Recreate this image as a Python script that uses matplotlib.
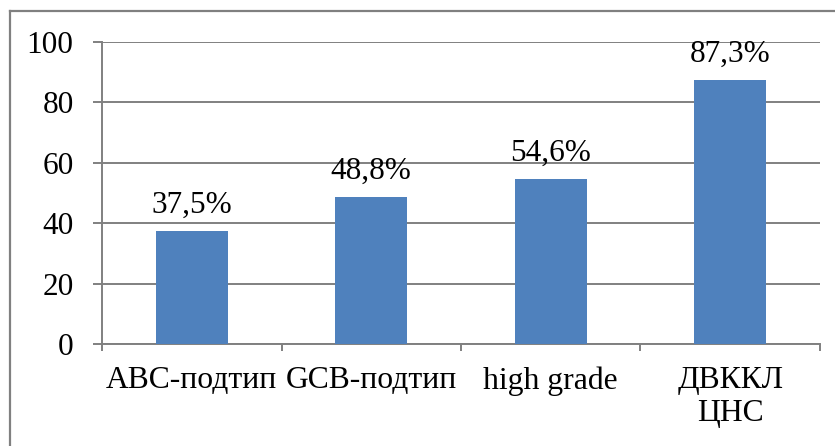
import numpy as np
import matplotlib.pyplot as plt
from matplotlib.lines import Line2D

plt.rcParams['font.family'] = ['Liberation Serif', 'DejaVu Serif']

# share of cases per lymphoma subgroup, %
groups = ["ABC-подтип", "GCB-подтип", "high grade", "ДВККЛ\nЦНС"]
share = [37.5, 48.8, 54.6, 87.3]
yticks = [0, 20, 40, 60, 80, 100]

grey = "#808080"
blue = "#4F81BD"

fig = plt.figure(figsize=(8.35, 4.46), dpi=100)
ax = fig.add_axes([0.1222, 0.2287, 0.982 - 0.1222, 0.9058 - 0.2287])

x = np.arange(len(groups))
bars = ax.bar(x, share, width=0.4, color=blue, zorder=3)

# value labels with comma as decimal separator
for b, v in zip(bars, share):
    ax.annotate(f"{v:.1f}%".replace(".", ","),
                (b.get_x() + b.get_width() / 2, v),
                xytext=(0, 8), textcoords="offset points",
                ha="center", va="bottom", fontsize=22.5)

ax.set_xlim(-0.5, len(groups) - 0.5)
ax.set_ylim(0, 100)
ax.set_yticks(yticks)
ax.set_yticklabels([str(t) for t in yticks])
ax.set_xticks(x)
ax.set_xticklabels(groups, linespacing=1.15)
ax.set_xticks(np.arange(len(groups) + 1) - 0.5, minor=True)

ax.tick_params(axis="y", length=6.5, width=1.4, color=grey, pad=14, labelsize=22.5)
ax.tick_params(axis="x", which="major", length=0, pad=16, labelsize=22.8)
ax.tick_params(axis="x", which="minor", length=5, width=1.4, color=grey)

ax.grid(axis="y", color=grey, linewidth=1.4, zorder=0)
for side in ["top", "right"]:
    ax.spines[side].set_visible(False)
for side in ["left", "bottom"]:
    ax.spines[side].set_color(grey)
    ax.spines[side].set_linewidth(1.4)

# outer frame (top and left edges of the chart area)
fig.add_artist(Line2D([9.5 / 835, 9.5 / 835], [0, 1 - 11 / 446], color=grey, lw=1.6))
fig.add_artist(Line2D([9.5 / 835, 1], [1 - 11 / 446, 1 - 11 / 446], color=grey, lw=1.6))

fig.savefig("out.png", dpi=100)
